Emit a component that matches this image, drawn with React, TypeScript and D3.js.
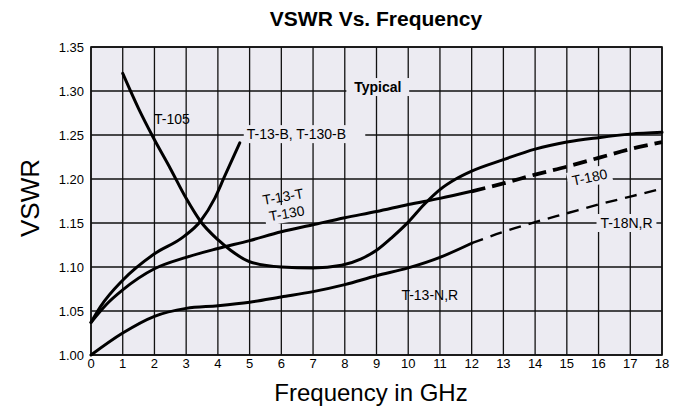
import { useEffect } from 'react';
import * as d3 from 'd3';

const freqTicks = d3.range(0, 19);
const vswrTicks = [1.0, 1.05, 1.1, 1.15, 1.2, 1.25, 1.3, 1.35];

// curves: [GHz, VSWR]
const t105 = [[1.0, 1.32], [1.5, 1.28], [1.95, 1.248], [2.5, 1.212], [3.0, 1.178], [3.45, 1.152], [4.0, 1.131], [4.4, 1.119], [5.0, 1.106], [6.0, 1.1], [7.0, 1.099], [7.9, 1.102], [8.5, 1.109], [9.0, 1.119], [9.5, 1.134], [10.0, 1.151], [10.5, 1.171], [11.0, 1.188], [11.5, 1.2], [12.0, 1.209], [13.0, 1.222], [14.0, 1.234], [15.0, 1.242], [16.0, 1.247], [17.0, 1.251], [18.0, 1.253]];
const t13b = [[0, 1.037], [0.3, 1.055], [1.0, 1.085], [2.0, 1.115], [2.9, 1.134], [3.45, 1.152], [3.9, 1.178], [4.2, 1.202], [4.69, 1.241]];
const t13t = [[0, 1.037], [0.5, 1.058], [1.0, 1.074], [2.0, 1.098], [3.0, 1.111], [4.0, 1.121], [5.0, 1.13], [6.0, 1.14], [7.0, 1.148], [8.0, 1.156], [9.0, 1.163], [10.0, 1.171], [11.0, 1.178], [12.0, 1.186]];
const t180 = [[12.0, 1.186], [13.0, 1.195], [14.0, 1.205], [15.0, 1.214], [16.0, 1.224], [17.0, 1.234], [18.0, 1.242]];
const t13n = [[0, 1.0], [1.0, 1.025], [2.0, 1.044], [3.0, 1.053], [4.0, 1.056], [5.0, 1.06], [6.0, 1.066], [7.0, 1.072], [8.0, 1.08], [9.0, 1.09], [10.0, 1.099], [11.0, 1.111], [12.0, 1.127]];
const t18n = [[12.0, 1.127], [13.0, 1.14], [14.0, 1.151], [15.0, 1.161], [16.0, 1.171], [17.0, 1.18], [18.0, 1.189]];

const labels = [
  { text: 'Typical', f: 9.04, v: 1.3045, rot: 0, bold: true, bg: true, anchor: 'middle' },
  { text: 'T-105', f: 2.55, v: 1.268, rot: 0, bold: false, bg: false, anchor: 'middle' },
  { text: 'T-13-B, T-130-B', f: 4.91, v: 1.251, rot: 0, bold: false, bg: true, anchor: 'start' },
  { text: 'T-13-T', f: 6.05, v: 1.18, rot: -10, bold: false, bg: false, anchor: 'middle' },
  { text: 'T-130', f: 6.17, v: 1.161, rot: -10, bold: false, bg: true, anchor: 'middle' },
  { text: 'T-180', f: 15.72, v: 1.202, rot: -12, bold: false, bg: true, anchor: 'middle' },
  { text: 'T-18N,R', f: 16.88, v: 1.15, rot: 0, bold: false, bg: true, anchor: 'middle' },
  { text: 'T-13-N,R', f: 10.68, v: 1.068, rot: 0, bold: false, bg: false, anchor: 'middle' },
];

const W = 678;
const H = 410;
const plotBg = '#ecebf2';
const font = '"Liberation Sans", Arial, Helvetica, sans-serif';

export default function App() {
  useEffect(() => {
    document.body.style.margin = '0';
    document.body.style.background = '#fff';
  }, []);

  const x = d3.scaleLinear().domain([0, 18]).range([91, 662]);
  const y = d3.scaleLinear().domain([1.0, 1.35]).range([355, 47]);

  const line = d3.line<number[]>()
    .x(d => x(d[0]))
    .y(d => y(d[1]))
    .curve(d3.curveMonotoneX);

  const approxWidth = (s: string, size: number, bold: boolean) => s.length * size * (bold ? 0.58 : 0.55);

  return (
    <svg width={W} height={H} style={{ display: 'block', background: '#fff' }} fontFamily={font}>
      <text x={376} y={26} textAnchor="middle" fontSize={21} fontWeight="bold">VSWR Vs. Frequency</text>

      <rect x={x(0)} y={y(1.35)} width={x(18) - x(0)} height={y(1.0) - y(1.35)} fill={plotBg} />

      {freqTicks.map(t => (
        <line key={'gx' + t} x1={x(t)} x2={x(t)} y1={y(1.35)} y2={y(1.0)} stroke="#111" strokeWidth={1.3} />
      ))}
      {vswrTicks.map(t => (
        <line key={'gy' + t} x1={x(0)} x2={x(18)} y1={y(t)} y2={y(t)} stroke="#111" strokeWidth={1.3} />
      ))}

      {/* label backgrounds break the grid */}
      {labels.filter(l => l.bg).map(l => {
        const size = 14;
        const w = approxWidth(l.text, size, l.bold) + 6;
        const cx = x(l.f);
        const cy = y(l.v);
        const left = l.anchor === 'start' ? cx - 3 : cx - w / 2;
        return (
          <rect key={'bg' + l.text} x={left} y={cy - 9} width={w} height={18} fill={plotBg}
            transform={`rotate(${l.rot},${cx},${cy})`} />
        );
      })}

      <rect x={x(0)} y={y(1.35)} width={x(18) - x(0)} height={y(1.0) - y(1.35)} fill="none" stroke="#111" strokeWidth={1.6} />

      <g fill="none" stroke="#000" strokeLinecap="round" strokeLinejoin="round">
        <path d={line(t105) as string} strokeWidth={3} />
        <path d={line(t13b) as string} strokeWidth={3} />
        <path d={line(t13t) as string} strokeWidth={3} />
        <path d={line(t180) as string} strokeWidth={3.8} strokeDasharray="14 7" strokeLinecap="butt" />
        <path d={line(t13n) as string} strokeWidth={3} />
        <path d={line(t18n) as string} strokeWidth={2.4} strokeDasharray="12 8" strokeLinecap="butt" />
      </g>

      {labels.map(l => {
        const cx = x(l.f);
        const cy = y(l.v);
        return (
          <text key={l.text} x={cx} y={cy} textAnchor={l.anchor} dominantBaseline="central"
            fontSize={14} fontWeight={l.bold ? 'bold' : 'normal'}
            transform={`rotate(${l.rot},${cx},${cy})`}>{l.text}</text>
        );
      })}

      {vswrTicks.map(t => (
        <text key={'ty' + t} x={84} y={y(t)} textAnchor="end" dominantBaseline="central" fontSize={13}>{t.toFixed(2)}</text>
      ))}
      {freqTicks.map(t => (
        <text key={'tx' + t} x={x(t)} y={368} textAnchor="middle" fontSize={13}>{t}</text>
      ))}

      <text x={371} y={401} textAnchor="middle" fontSize={24}>Frequency in GHz</text>
      <text transform={`translate(30,198) rotate(-90)`} textAnchor="middle" dominantBaseline="central" fontSize={26}>VSWR</text>
    </svg>
  );
}
